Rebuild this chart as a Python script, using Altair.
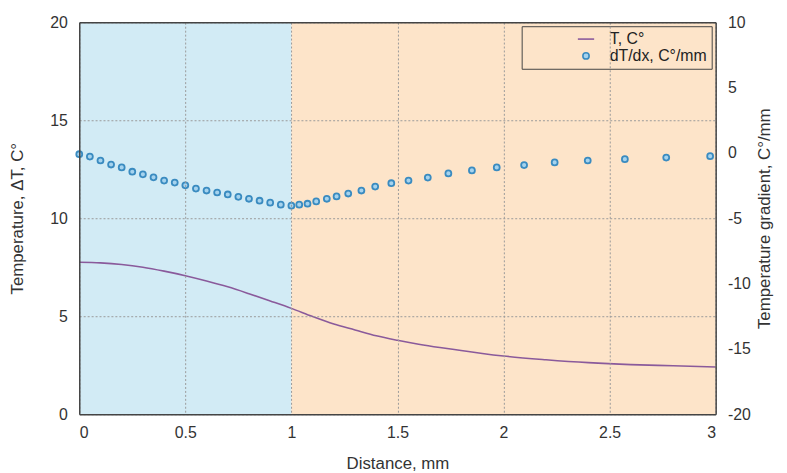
import altair as alt
import pandas as pd

# ---- data ----
t_x = [0, 0.1, 0.2, 0.3, 0.4, 0.5, 0.6, 0.7, 0.8, 0.9, 1.0, 1.1, 1.2, 1.3, 1.4,
       1.5, 1.6, 1.7, 1.8, 1.9, 2.0, 2.2, 2.4, 2.6, 2.8, 3.0]
t_val = [7.75, 7.72, 7.64, 7.5, 7.3, 7.07, 6.8, 6.5, 6.15, 5.78, 5.4, 4.98, 4.6,
         4.3, 4.0, 3.77, 3.57, 3.4, 3.25, 3.1, 2.97, 2.78, 2.63, 2.53, 2.47, 2.41]

g_x = [0, 0.05, 0.1, 0.15, 0.2, 0.25, 0.3, 0.35, 0.4, 0.45, 0.5, 0.55, 0.6, 0.65,
       0.7, 0.75, 0.8, 0.85, 0.9, 0.95, 1.0,
       1.037, 1.076, 1.117, 1.167, 1.213, 1.268, 1.33, 1.395, 1.471, 1.552, 1.643,
       1.74, 1.851, 1.968, 2.097, 2.241, 2.397, 2.572, 2.767, 2.974]
g_val = [-0.1, -0.28, -0.58, -0.89, -1.11, -1.44, -1.64, -1.87, -2.12, -2.27, -2.48,
         -2.73, -2.88, -3.03, -3.18, -3.36, -3.51, -3.66, -3.81, -3.96, -4.04,
         -3.96, -3.89, -3.71, -3.51, -3.33, -3.11, -2.88, -2.58, -2.32, -2.12, -1.89,
         -1.57, -1.34, -1.11, -0.93, -0.73, -0.58, -0.48, -0.36, -0.25]

series = ["T, C°", "dT/dx, C°/mm"]

region_name = ["zone 1", "zone 2"]
region_start = [0, 1]
region_end = [1, 3]

x_ticks = [0, 0.5, 1, 1.5, 2, 2.5, 3]
y_left_ticks = [0, 5, 10, 15, 20]
y_right_ticks = [-20, -15, -10, -5, 0, 5, 10]

# ---- styles ----
FONT = "Liberation Sans"
BLUE_BG = "#d2ebf5"
PEACH_BG = "#fde4c9"
LINE_COL = "#8a5a9b"
PT_COL = "#3a8bc0"

regions = pd.DataFrame({"region": region_name, "start": region_start, "end": region_end})
tdf = pd.DataFrame({"x": t_x, "v": t_val, "series": series[0]})
gdf = pd.DataFrame({"x": g_x, "v": g_val, "series": series[1]})

xscale = alt.Scale(domain=[0, 3], nice=False, zero=False)
color_scale = alt.Scale(domain=series, range=[LINE_COL, PT_COL])
shape_scale = alt.Scale(domain=series, range=["M-2.6,0H2.6", "circle"])

legend = alt.Legend(
    title=None, orient="top-right", offset=4,
    fillColor=PEACH_BG, strokeColor="#444444", padding=5,
    labelFont=FONT, labelFontSize=16, labelColor="#222222",
    symbolSize=40, symbolStrokeWidth=1.6, rowPadding=1,
    labelOffset=16, symbolOffset=52,
)

bg = alt.Chart(regions).mark_rect().encode(
    x=alt.X("start:Q", scale=xscale, axis=None),
    x2="end:Q",
    fill=alt.Fill("region:N", scale=alt.Scale(domain=region_name, range=[BLUE_BG, PEACH_BG]), legend=None),
)

line = alt.Chart(tdf).mark_line(strokeWidth=1.6, interpolate="monotone").encode(
    x=alt.X("x:Q", scale=xscale, axis=alt.Axis(
        values=x_ticks, format="~g", title="Distance, mm", grid=True, zindex=1,
        labelPadding=11, titlePadding=15, orient="bottom")),
    y=alt.Y("v:Q", scale=alt.Scale(domain=[0, 20], nice=False), axis=alt.Axis(
        values=y_left_ticks, title="Temperature, ΔT, C°", grid=True, zindex=1,
        orient="left", labelPadding=12, titlePadding=24)),
    color=alt.Color("series:N", scale=color_scale, legend=legend),
)

pts = alt.Chart(gdf).mark_point(filled=False, fill="#a6d3ee", size=36, strokeWidth=1.8, opacity=1).encode(
    x=alt.X("x:Q", scale=xscale, axis=alt.Axis(
        orient="top", labels=False, ticks=False, grid=False, title=None, domain=True, zindex=1)),
    y=alt.Y("v:Q", scale=alt.Scale(domain=[-20, 10], nice=False), axis=alt.Axis(
        values=y_right_ticks, title="Temperature gradient, C°/mm", grid=False, zindex=1,
        orient="right", titleAngle=270, labelPadding=12, titlePadding=23,
        labelExpr="replace(datum.label, '\u2212', '-')")),
    color=alt.Color("series:N", scale=color_scale, legend=legend),
    shape=alt.Shape("series:N", scale=shape_scale, legend=legend),
)

chart = alt.layer(bg, line, pts).resolve_scale(
    x="independent", y="independent"
).properties(
    width=643, height=396,
    padding={"left": 72, "top": 12, "right": 64, "bottom": 57},
    autosize=alt.AutoSizeParams(type="none"),
    background="white",
).configure_view(stroke=None).configure_axis(
    domainColor="#444444", domainWidth=1.5, tickSize=0,
    gridColor="#9a9a9a", gridDash=[2, 2], gridWidth=1, gridOpacity=1,
    labelFont=FONT, labelFontSize=16, labelColor="#333333",
    titleFont=FONT, titleFontSize=17, titleFontWeight="normal", titleColor="#333333",
)

chart.save("out.html", embed_options={"renderer": "svg", "actions": False})
